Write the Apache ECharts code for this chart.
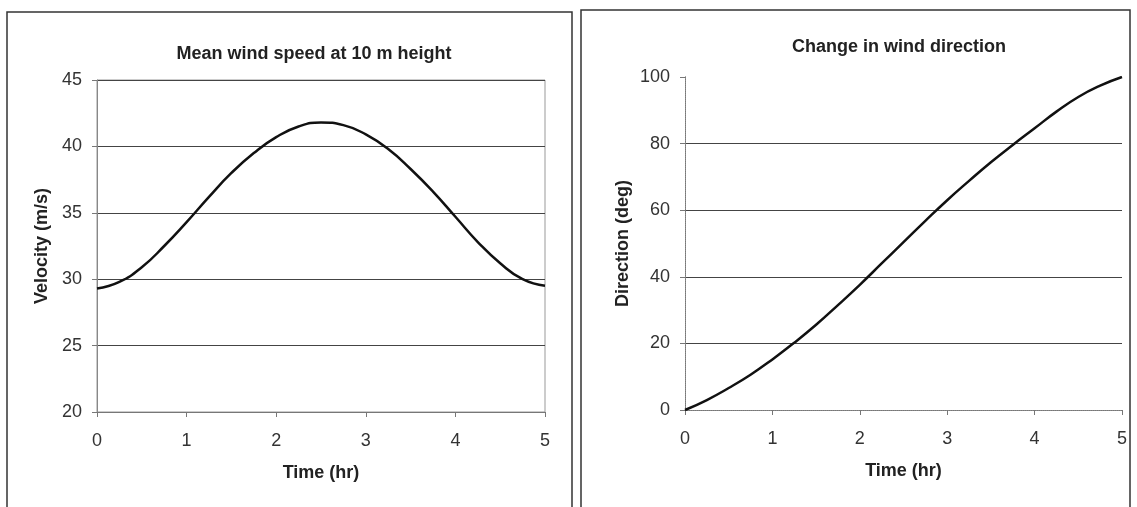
<!DOCTYPE html>
<html lang="en">
<head>
    <meta charset="UTF-8">
    <title>Wind speed and direction</title>
    <script src="https://cdn.jsdelivr.net/npm/echarts@6/dist/echarts.min.js"></script>
    <style>
        html, body { margin: 0; padding: 0; background: #fff; }
        #chart { width: 1137px; height: 507px; }
    </style>
</head>
<body>
    <div id="chart"></div>
    <script>
        // time in hours, every quarter hour
        const timeHr = [0, 0.25, 0.5, 0.75, 1, 1.25, 1.5, 1.75, 2, 2.25, 2.5,
            2.75, 3, 3.25, 3.5, 3.75, 4, 4.25, 4.5, 4.75, 5];
        // mean wind speed at 10 m (m/s)
        const velocity = [29.3, 29.8, 30.9, 32.5, 34.3, 36.2, 38.0, 39.5, 40.7, 41.5, 41.8,
            41.6, 40.9, 39.8, 38.3, 36.6, 34.7, 32.8, 31.2, 30.0, 29.5];
        // change in wind direction (deg)
        const direction = [0, 3.0, 6.6, 10.6, 15.2, 20.2, 25.6, 31.5, 37.6, 44.0, 50.4,
            56.8, 63.0, 68.8, 74.4, 79.6, 84.6, 89.6, 94.0, 97.4, 100];

        const titles = ['Mean wind speed at 10 m height', 'Change in wind direction'];
        const yNames = ['Velocity (m/s)', 'Direction (deg)'];
        const xName = 'Time (hr)';

        const font = 'Liberation Sans, Arial, sans-serif';
        const txt = '#222';
        const fs = 18;

        function pairs(xs, ys) {
            return xs.map((x, i) => [x, ys[i]]);
        }

        const chart = echarts.init(document.getElementById('chart'));

        const xBase = {
            type: 'value', min: 0, max: 5, interval: 1,
            name: xName, nameLocation: 'middle', nameGap: 52,
            nameTextStyle: { fontFamily: font, fontSize: fs, fontWeight: 'bold', color: txt },
            axisLine: { show: true, lineStyle: { color: '#777', width: 1 } },
            axisTick: { show: true, length: 5, lineStyle: { color: '#777' } },
            axisLabel: { margin: 20, fontFamily: font, fontSize: fs, color: '#333' },
            splitLine: { show: false }
        };

        function yBase(i) {
            return {
                type: 'value', gridIndex: i,
                name: yNames[i], nameLocation: 'middle', nameGap: i === 0 ? 46 : 53,
                nameTextStyle: { fontFamily: font, fontSize: fs, fontWeight: 'bold', color: txt },
                axisLine: { show: true, lineStyle: { color: '#888', width: 1, type: i === 0 ? 'solid' : 'dotted' } },
                axisTick: { show: true, length: 5, lineStyle: { color: '#777' } },
                axisLabel: { margin: 15, fontFamily: font, fontSize: fs, color: '#333' },
                splitLine: { show: true, showMinLine: false, showMaxLine: i === 0, lineStyle: { color: '#444', width: 1 } }
            };
        }

        chart.setOption({
            backgroundColor: '#fff',
            animation: false,
            title: [
                {
                    text: titles[0], left: 309, top: 40, textAlign: 'center',
                    textStyle: { fontFamily: font, fontSize: fs, fontWeight: 'bold', color: txt }
                },
                {
                    text: titles[1], left: 894, top: 33, textAlign: 'center',
                    textStyle: { fontFamily: font, fontSize: fs, fontWeight: 'bold', color: txt }
                }
            ],
            // panel frames
            graphic: [
                { type: 'rect', shape: { x: 7, y: 12, width: 565, height: 600 },
                  style: { fill: 'none', stroke: '#333', lineWidth: 1.5 } },
                { type: 'rect', shape: { x: 581, y: 10, width: 549, height: 600 },
                  style: { fill: 'none', stroke: '#333', lineWidth: 1.5 } }
            ],
            grid: [
                { left: 97, top: 80, width: 448, height: 332, show: true, borderColor: '#999', borderWidth: 1, backgroundColor: 'transparent' },
                { left: 685, top: 77, width: 437, height: 333 }
            ],
            xAxis: [
                Object.assign({}, xBase, { gridIndex: 0 }),
                Object.assign({}, xBase, { gridIndex: 1, axisLine: { show: true, lineStyle: { color: '#777', width: 1, type: 'dotted' } } }),
                // dotted top edge of the right plot
                { type: 'value', gridIndex: 1, position: 'top', min: 0, max: 5,
                  axisLine: { show: true, lineStyle: { color: '#777', type: 'dotted' } },
                  axisTick: { show: false }, axisLabel: { show: false }, splitLine: { show: false } }
            ],
            yAxis: [
                Object.assign(yBase(0), { min: 20, max: 45, interval: 5 }),
                Object.assign(yBase(1), { min: 0, max: 100, interval: 20 }),
                // dotted right edge of the right plot
                { type: 'value', gridIndex: 1, position: 'right', min: 0, max: 100,
                  axisLine: { show: true, lineStyle: { color: '#777', type: 'dotted' } },
                  axisTick: { show: false }, axisLabel: { show: false }, splitLine: { show: false } }
            ],
            series: [
                {
                    type: 'line', xAxisIndex: 0, yAxisIndex: 0,
                    data: pairs(timeHr, velocity), smooth: true, showSymbol: false,
                    lineStyle: { color: '#111', width: 2.5 }
                },
                {
                    type: 'line', xAxisIndex: 1, yAxisIndex: 1,
                    data: pairs(timeHr, direction), smooth: true, showSymbol: false,
                    lineStyle: { color: '#111', width: 2.5 }
                }
            ]
        });
    </script>
</body>
</html>
